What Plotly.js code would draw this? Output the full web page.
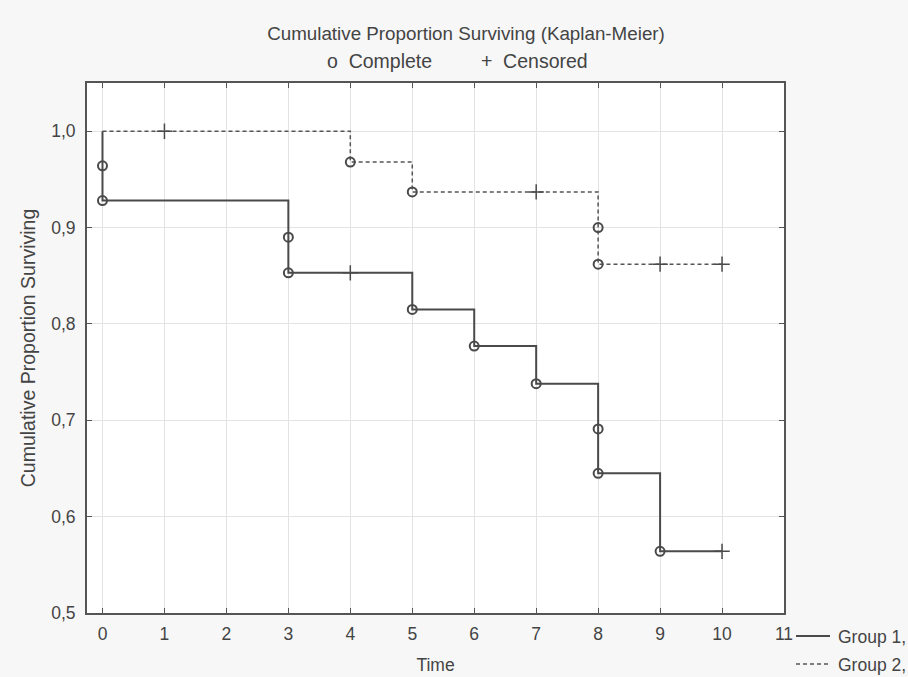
<!DOCTYPE html>
<html>
<head>
<meta charset="utf-8">
<script src="https://cdn.plot.ly/plotly-3.0.1.min.js"></script>
<style>
html,body{margin:0;padding:0;background:#f7f7f7;}
#chart{width:908px;height:677px;}
</style>
</head>
<body>
<div id="chart"></div>
<script>
// Group 1 (solid)
const g1CompleteTime = [0, 0, 3, 3, 5, 6, 7, 8, 8, 9];
const g1CompleteSurv = [0.964, 0.928, 0.890, 0.853, 0.815, 0.777, 0.738, 0.691, 0.645, 0.564];
const g1CensoredTime = [4, 10];
const g1CensoredSurv = [0.853, 0.564];
// Group 2 (dashed)
const g2CompleteTime = [4, 5, 8, 8];
const g2CompleteSurv = [0.968, 0.937, 0.900, 0.862];
const g2CensoredTime = [1, 7, 9, 10];
const g2CensoredSurv = [1.0, 0.937, 0.862, 0.862];
const startTime = 0;
const startSurv = 1.0;

const groupNames = ["Group 1,", "Group 2,"];
const xTicks = [0,1,2,3,4,5,6,7,8,9,10,11];
const yTicks = [0.5,0.6,0.7,0.8,0.9,1.0];

function stepPath(ct, cs, zt, zs) {
  const pts = [];
  ct.forEach((t, i) => pts.push([t, cs[i]]));
  zt.forEach((t, i) => pts.push([t, zs[i]]));
  pts.sort((a, b) => a[0] - b[0] || b[1] - a[1]);
  return { x: [startTime].concat(pts.map(p => p[0])), y: [startSurv].concat(pts.map(p => p[1])) };
}

const ink = "#4a4a4a";
const dashInk = "#555";
const s1 = stepPath(g1CompleteTime, g1CompleteSurv, g1CensoredTime, g1CensoredSurv);
const s2 = stepPath(g2CompleteTime, g2CompleteSurv, g2CensoredTime, g2CensoredSurv);

const traces = [
  { x: s1.x, y: s1.y, mode: "lines", line: { shape: "hv", color: ink, width: 2 }, name: groupNames[0], hoverinfo: "skip" },
  { x: s2.x, y: s2.y, mode: "lines", line: { shape: "hv", color: dashInk, width: 1.5, dash: "4px,3px" }, name: groupNames[1], hoverinfo: "skip" },
  { x: g1CompleteTime, y: g1CompleteSurv, mode: "markers", marker: { symbol: "circle-open", size: 9, color: ink, line: { width: 2, color: ink } } },
  { x: g2CompleteTime, y: g2CompleteSurv, mode: "markers", marker: { symbol: "circle-open", size: 9, color: ink, line: { width: 2, color: ink } } },
  { x: g1CensoredTime, y: g1CensoredSurv, mode: "markers", marker: { symbol: "cross-thin", size: 11, color: ink, line: { width: 1.5, color: ink } } },
  { x: g2CensoredTime, y: g2CensoredSurv, mode: "markers", marker: { symbol: "cross-thin", size: 11, color: ink, line: { width: 1.5, color: ink } } }
];

const fam = "Liberation Sans, Arial, sans-serif";
const txt = "#444";
const W = 908, H = 677, L = 87, R = 124, T = 83, B = 64;
const pw = W - L - R, ph = H - T - B;
const px2x = p => (p - L) / pw;
const py2y = p => (H - B - p) / ph;

const legendY = [636, 664];
const legendShapes = legendY.map((py, i) => ({
  type: "line", xref: "paper", yref: "paper",
  x0: px2x(796), x1: px2x(830), y0: py2y(py), y1: py2y(py),
  line: i === 0 ? { color: ink, width: 2 } : { color: dashInk, width: 1.5, dash: "4px,3px" }
}));
const legendText = legendY.map((py, i) => ({
  text: groupNames[i], xref: "paper", yref: "paper", x: px2x(836), y: py2y(py + 1),
  xanchor: "left", yanchor: "middle", showarrow: false, font: { family: fam, size: 17.5, color: txt }
}));

const layout = {
  width: W, height: H,
  paper_bgcolor: "#f7f7f7",
  plot_bgcolor: "#ffffff",
  font: { family: fam, size: 17.5, color: txt },
  separators: ",.",
  showlegend: false,
  margin: { l: L, r: R, t: T, b: B, pad: 0 },
  title: { text: "Cumulative Proportion Surviving (Kaplan-Meier)", font: { family: fam, size: 18.8, color: txt }, x: 466/W, xref: "container", xanchor: "center", y: 1 - 33/H, yref: "container", yanchor: "middle" },
  annotations: [
    { text: "o  Complete         +  Censored", xref: "paper", yref: "paper", x: px2x(457), y: py2y(61), xanchor: "center", yanchor: "middle", showarrow: false, font: { family: fam, size: 19.5, color: txt } }
  ].concat(legendText),
  shapes: legendShapes,
  xaxis: {
    range: [-0.25, 11], tickvals: xTicks, ticktext: xTicks.map(String),
    showgrid: true, gridcolor: "#e3e3e3", gridwidth: 1,
    zeroline: false, showline: true, linecolor: "#555", linewidth: 2, mirror: "ticks",
    ticks: "inside", ticklen: 5, tickcolor: "#555", tickwidth: 1,
    ticklabelstandoff: 4,
    tickfont: { family: fam, size: 17.5, color: txt },
    title: { text: "Time", font: { family: fam, size: 17.5, color: txt }, standoff: 16 },
    automargin: false, fixedrange: true
  },
  yaxis: {
    range: [0.5, 1.05], tickvals: yTicks, tickformat: ".1f",
    showgrid: true, gridcolor: "#e3e3e3", gridwidth: 1,
    zeroline: false, showline: true, linecolor: "#555", linewidth: 2, mirror: "ticks",
    ticks: "inside", ticklen: 5, tickcolor: "#555", tickwidth: 1,
    ticklabelstandoff: 6,
    tickfont: { family: fam, size: 17.5, color: txt },
    title: { text: "Cumulative Proportion Surviving", font: { family: fam, size: 19.5, color: txt }, standoff: 10 },
    automargin: false, fixedrange: true
  }
};

Plotly.newPlot("chart", traces, layout, { displayModeBar: false, staticPlot: true });
</script>
</body>
</html>
